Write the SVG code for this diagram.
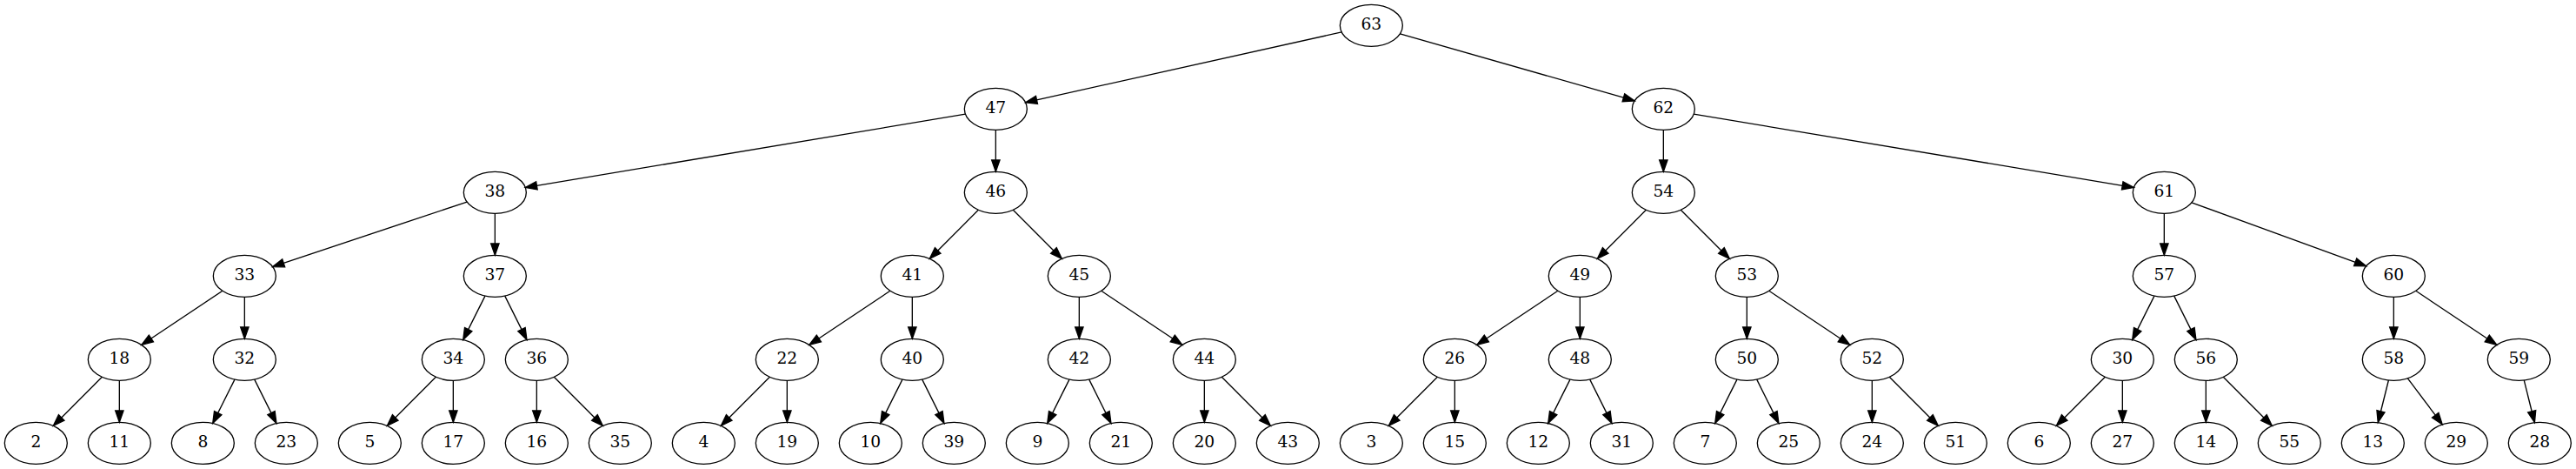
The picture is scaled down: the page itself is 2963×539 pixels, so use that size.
<svg xmlns="http://www.w3.org/2000/svg" width="2963" height="539" viewBox="0 0 2963 539">
<style>
.n ellipse{fill:none;stroke:#000;stroke-width:1.33}
.n text{font-family:"DejaVu Serif",serif;font-size:18.67px;text-anchor:middle;fill:#000}
#edges path{fill:none;stroke:#000;stroke-width:1.33;marker-end:url(#arr)}
</style>
<defs>
<marker id="arr" markerUnits="userSpaceOnUse" orient="auto" refX="0" refY="4.667" markerWidth="16" markerHeight="12" overflow="visible">
<path d="M0,0 L13.333,4.667 L0,9.333 Z" fill="#000" stroke="#000" stroke-width="1.33"/>
</marker>
</defs>
<rect width="2963" height="539" fill="#fff"/>
<g id="edges">
<path d="M1543.18,36.92 L1192.5,114.85"/>
<path d="M1610.42,38.78 L1867.42,112.22"/>
<path d="M1110.4,131.15 L617.41,213.32"/>
<path d="M1145.33,149.33 L1145.33,184"/>
<path d="M1913.33,149.33 L1913.33,184"/>
<path d="M1948.26,131.15 L2441.25,213.32"/>
<path d="M537.13,232.06 L326.18,302.38"/>
<path d="M569.33,245.33 L569.33,280"/>
<path d="M1125.36,241.3 L1078.73,287.93"/>
<path d="M1165.3,241.3 L1211.93,287.93"/>
<path d="M1893.36,241.3 L1846.73,287.93"/>
<path d="M1933.3,241.3 L1979.93,287.93"/>
<path d="M2489.33,245.33 L2489.33,280"/>
<path d="M2520.94,232.82 L2709.19,301.28"/>
<path d="M255.87,334.3 L173.88,388.96"/>
<path d="M281.33,341.33 L281.33,376"/>
<path d="M557.95,340.1 L538.68,378.63"/>
<path d="M580.71,340.1 L599.98,378.63"/>
<path d="M1023.87,334.3 L941.88,388.96"/>
<path d="M1049.33,341.33 L1049.33,376"/>
<path d="M1241.33,341.33 L1241.33,376"/>
<path d="M1266.79,334.3 L1348.78,388.96"/>
<path d="M1791.87,334.3 L1709.88,388.96"/>
<path d="M1817.33,341.33 L1817.33,376"/>
<path d="M2009.33,341.33 L2009.33,376"/>
<path d="M2034.79,334.3 L2116.78,388.96"/>
<path d="M2477.95,340.1 L2458.68,378.63"/>
<path d="M2500.71,340.1 L2519.98,378.63"/>
<path d="M2753.33,341.33 L2753.33,376"/>
<path d="M2778.79,334.3 L2860.78,388.96"/>
<path d="M117.36,433.3 L70.73,479.93"/>
<path d="M137.33,437.33 L137.33,472"/>
<path d="M269.95,436.1 L250.68,474.63"/>
<path d="M292.71,436.1 L311.98,474.63"/>
<path d="M501.36,433.3 L454.73,479.93"/>
<path d="M521.33,437.33 L521.33,472"/>
<path d="M617.33,437.33 L617.33,472"/>
<path d="M637.3,433.3 L683.93,479.93"/>
<path d="M885.36,433.3 L838.73,479.93"/>
<path d="M905.33,437.33 L905.33,472"/>
<path d="M1037.95,436.1 L1018.68,474.63"/>
<path d="M1060.71,436.1 L1079.98,474.63"/>
<path d="M1229.95,436.1 L1210.68,474.63"/>
<path d="M1252.71,436.1 L1271.98,474.63"/>
<path d="M1385.33,437.33 L1385.33,472"/>
<path d="M1405.3,433.3 L1451.93,479.93"/>
<path d="M1653.36,433.3 L1606.73,479.93"/>
<path d="M1673.33,437.33 L1673.33,472"/>
<path d="M1805.95,436.1 L1786.68,474.63"/>
<path d="M1828.71,436.1 L1847.98,474.63"/>
<path d="M1997.95,436.1 L1978.68,474.63"/>
<path d="M2020.71,436.1 L2039.98,474.63"/>
<path d="M2153.33,437.33 L2153.33,472"/>
<path d="M2173.3,433.3 L2219.93,479.93"/>
<path d="M2421.36,433.3 L2374.73,479.93"/>
<path d="M2441.33,437.33 L2441.33,472"/>
<path d="M2537.33,437.33 L2537.33,472"/>
<path d="M2557.3,433.3 L2603.93,479.93"/>
<path d="M2747.41,437 L2738.48,472.72"/>
<path d="M2769.43,434.8 L2801.23,477.19"/>
<path d="M2903.25,437 L2912.18,472.72"/>
</g>
<g id="n63" class="n"><ellipse cx="1577.33" cy="29.33" rx="36" ry="24"/><text x="1577.33" y="34">63</text></g>
<g id="n47" class="n"><ellipse cx="1145.33" cy="125.33" rx="36" ry="24"/><text x="1145.33" y="130">47</text></g>
<g id="n62" class="n"><ellipse cx="1913.33" cy="125.33" rx="36" ry="24"/><text x="1913.33" y="130">62</text></g>
<g id="n38" class="n"><ellipse cx="569.33" cy="221.33" rx="36" ry="24"/><text x="569.33" y="226">38</text></g>
<g id="n46" class="n"><ellipse cx="1145.33" cy="221.33" rx="36" ry="24"/><text x="1145.33" y="226">46</text></g>
<g id="n54" class="n"><ellipse cx="1913.33" cy="221.33" rx="36" ry="24"/><text x="1913.33" y="226">54</text></g>
<g id="n61" class="n"><ellipse cx="2489.33" cy="221.33" rx="36" ry="24"/><text x="2489.33" y="226">61</text></g>
<g id="n33" class="n"><ellipse cx="281.33" cy="317.33" rx="36" ry="24"/><text x="281.33" y="322">33</text></g>
<g id="n37" class="n"><ellipse cx="569.33" cy="317.33" rx="36" ry="24"/><text x="569.33" y="322">37</text></g>
<g id="n41" class="n"><ellipse cx="1049.33" cy="317.33" rx="36" ry="24"/><text x="1049.33" y="322">41</text></g>
<g id="n45" class="n"><ellipse cx="1241.33" cy="317.33" rx="36" ry="24"/><text x="1241.33" y="322">45</text></g>
<g id="n49" class="n"><ellipse cx="1817.33" cy="317.33" rx="36" ry="24"/><text x="1817.33" y="322">49</text></g>
<g id="n53" class="n"><ellipse cx="2009.33" cy="317.33" rx="36" ry="24"/><text x="2009.33" y="322">53</text></g>
<g id="n57" class="n"><ellipse cx="2489.33" cy="317.33" rx="36" ry="24"/><text x="2489.33" y="322">57</text></g>
<g id="n60" class="n"><ellipse cx="2753.33" cy="317.33" rx="36" ry="24"/><text x="2753.33" y="322">60</text></g>
<g id="n18" class="n"><ellipse cx="137.33" cy="413.33" rx="36" ry="24"/><text x="137.33" y="418">18</text></g>
<g id="n32" class="n"><ellipse cx="281.33" cy="413.33" rx="36" ry="24"/><text x="281.33" y="418">32</text></g>
<g id="n34" class="n"><ellipse cx="521.33" cy="413.33" rx="36" ry="24"/><text x="521.33" y="418">34</text></g>
<g id="n36" class="n"><ellipse cx="617.33" cy="413.33" rx="36" ry="24"/><text x="617.33" y="418">36</text></g>
<g id="n22" class="n"><ellipse cx="905.33" cy="413.33" rx="36" ry="24"/><text x="905.33" y="418">22</text></g>
<g id="n40" class="n"><ellipse cx="1049.33" cy="413.33" rx="36" ry="24"/><text x="1049.33" y="418">40</text></g>
<g id="n42" class="n"><ellipse cx="1241.33" cy="413.33" rx="36" ry="24"/><text x="1241.33" y="418">42</text></g>
<g id="n44" class="n"><ellipse cx="1385.33" cy="413.33" rx="36" ry="24"/><text x="1385.33" y="418">44</text></g>
<g id="n26" class="n"><ellipse cx="1673.33" cy="413.33" rx="36" ry="24"/><text x="1673.33" y="418">26</text></g>
<g id="n48" class="n"><ellipse cx="1817.33" cy="413.33" rx="36" ry="24"/><text x="1817.33" y="418">48</text></g>
<g id="n50" class="n"><ellipse cx="2009.33" cy="413.33" rx="36" ry="24"/><text x="2009.33" y="418">50</text></g>
<g id="n52" class="n"><ellipse cx="2153.33" cy="413.33" rx="36" ry="24"/><text x="2153.33" y="418">52</text></g>
<g id="n30" class="n"><ellipse cx="2441.33" cy="413.33" rx="36" ry="24"/><text x="2441.33" y="418">30</text></g>
<g id="n56" class="n"><ellipse cx="2537.33" cy="413.33" rx="36" ry="24"/><text x="2537.33" y="418">56</text></g>
<g id="n58" class="n"><ellipse cx="2753.33" cy="413.33" rx="36" ry="24"/><text x="2753.33" y="418">58</text></g>
<g id="n59" class="n"><ellipse cx="2897.33" cy="413.33" rx="36" ry="24"/><text x="2897.33" y="418">59</text></g>
<g id="n2" class="n"><ellipse cx="41.33" cy="509.33" rx="36" ry="24"/><text x="41.33" y="514">2</text></g>
<g id="n11" class="n"><ellipse cx="137.33" cy="509.33" rx="36" ry="24"/><text x="137.33" y="514">11</text></g>
<g id="n8" class="n"><ellipse cx="233.33" cy="509.33" rx="36" ry="24"/><text x="233.33" y="514">8</text></g>
<g id="n23" class="n"><ellipse cx="329.33" cy="509.33" rx="36" ry="24"/><text x="329.33" y="514">23</text></g>
<g id="n5" class="n"><ellipse cx="425.33" cy="509.33" rx="36" ry="24"/><text x="425.33" y="514">5</text></g>
<g id="n17" class="n"><ellipse cx="521.33" cy="509.33" rx="36" ry="24"/><text x="521.33" y="514">17</text></g>
<g id="n16" class="n"><ellipse cx="617.33" cy="509.33" rx="36" ry="24"/><text x="617.33" y="514">16</text></g>
<g id="n35" class="n"><ellipse cx="713.33" cy="509.33" rx="36" ry="24"/><text x="713.33" y="514">35</text></g>
<g id="n4" class="n"><ellipse cx="809.33" cy="509.33" rx="36" ry="24"/><text x="809.33" y="514">4</text></g>
<g id="n19" class="n"><ellipse cx="905.33" cy="509.33" rx="36" ry="24"/><text x="905.33" y="514">19</text></g>
<g id="n10" class="n"><ellipse cx="1001.33" cy="509.33" rx="36" ry="24"/><text x="1001.33" y="514">10</text></g>
<g id="n39" class="n"><ellipse cx="1097.33" cy="509.33" rx="36" ry="24"/><text x="1097.33" y="514">39</text></g>
<g id="n9" class="n"><ellipse cx="1193.33" cy="509.33" rx="36" ry="24"/><text x="1193.33" y="514">9</text></g>
<g id="n21" class="n"><ellipse cx="1289.33" cy="509.33" rx="36" ry="24"/><text x="1289.33" y="514">21</text></g>
<g id="n20" class="n"><ellipse cx="1385.33" cy="509.33" rx="36" ry="24"/><text x="1385.33" y="514">20</text></g>
<g id="n43" class="n"><ellipse cx="1481.33" cy="509.33" rx="36" ry="24"/><text x="1481.33" y="514">43</text></g>
<g id="n3" class="n"><ellipse cx="1577.33" cy="509.33" rx="36" ry="24"/><text x="1577.33" y="514">3</text></g>
<g id="n15" class="n"><ellipse cx="1673.33" cy="509.33" rx="36" ry="24"/><text x="1673.33" y="514">15</text></g>
<g id="n12" class="n"><ellipse cx="1769.33" cy="509.33" rx="36" ry="24"/><text x="1769.33" y="514">12</text></g>
<g id="n31" class="n"><ellipse cx="1865.33" cy="509.33" rx="36" ry="24"/><text x="1865.33" y="514">31</text></g>
<g id="n7" class="n"><ellipse cx="1961.33" cy="509.33" rx="36" ry="24"/><text x="1961.33" y="514">7</text></g>
<g id="n25" class="n"><ellipse cx="2057.33" cy="509.33" rx="36" ry="24"/><text x="2057.33" y="514">25</text></g>
<g id="n24" class="n"><ellipse cx="2153.33" cy="509.33" rx="36" ry="24"/><text x="2153.33" y="514">24</text></g>
<g id="n51" class="n"><ellipse cx="2249.33" cy="509.33" rx="36" ry="24"/><text x="2249.33" y="514">51</text></g>
<g id="n6" class="n"><ellipse cx="2345.33" cy="509.33" rx="36" ry="24"/><text x="2345.33" y="514">6</text></g>
<g id="n27" class="n"><ellipse cx="2441.33" cy="509.33" rx="36" ry="24"/><text x="2441.33" y="514">27</text></g>
<g id="n14" class="n"><ellipse cx="2537.33" cy="509.33" rx="36" ry="24"/><text x="2537.33" y="514">14</text></g>
<g id="n55" class="n"><ellipse cx="2633.33" cy="509.33" rx="36" ry="24"/><text x="2633.33" y="514">55</text></g>
<g id="n13" class="n"><ellipse cx="2729.33" cy="509.33" rx="36" ry="24"/><text x="2729.33" y="514">13</text></g>
<g id="n29" class="n"><ellipse cx="2825.33" cy="509.33" rx="36" ry="24"/><text x="2825.33" y="514">29</text></g>
<g id="n28" class="n"><ellipse cx="2921.33" cy="509.33" rx="36" ry="24"/><text x="2921.33" y="514">28</text></g>
</svg>
